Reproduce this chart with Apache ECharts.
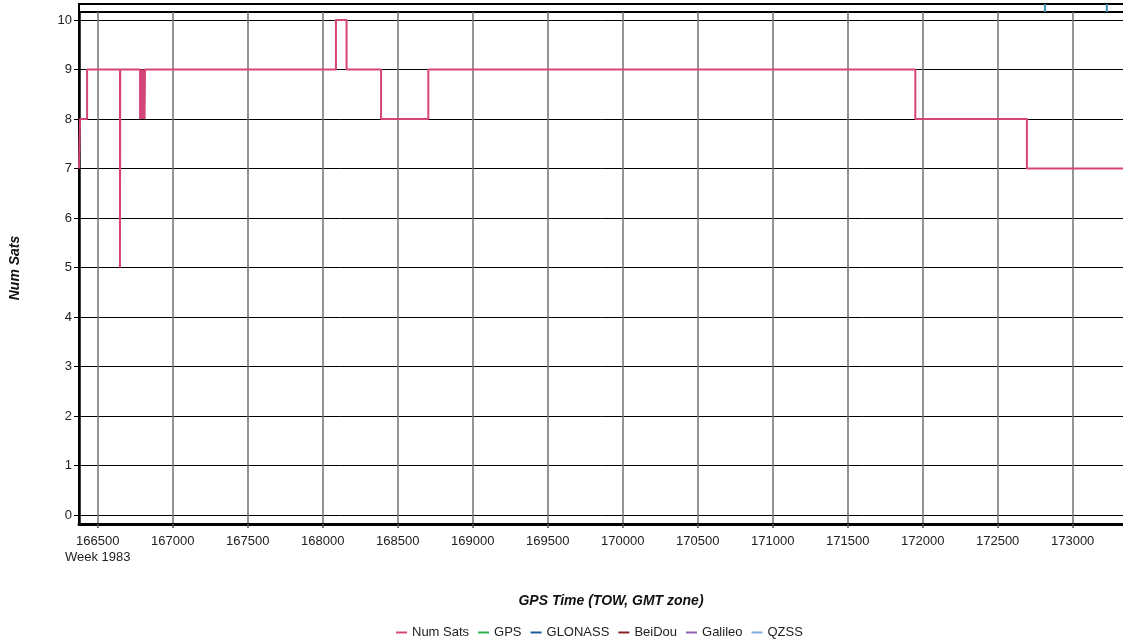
<!DOCTYPE html>
<html>
<head>
<meta charset="utf-8">
<script src="https://cdn.jsdelivr.net/npm/echarts@6/dist/echarts.min.js"></script>
<style>
  html, body { margin: 0; padding: 0; background: #fff; }
  #chart { width: 1123px; height: 639px; }
</style>
</head>
<body>
<div id="chart"></div>
<script>
// Legend entries and their colours
const seriesNames = ['Num Sats', 'GPS', 'GLONASS', 'BeiDou', 'Galileo', 'QZSS'];
const seriesColors = ['#d6457a', '#2eb04c', '#1f5c9c', '#8c2323', '#9263b4', '#85abdc'];

// Axis ticks
const towTicks = [166500, 167000, 167500, 168000, 168500, 169000, 169500,
                  170000, 170500, 171000, 171500, 172000, 172500, 173000];
const satTicks = [0, 1, 2, 3, 4, 5, 6, 7, 8, 9, 10];
const weekLabel = 'Week 1983';

// Number of satellites in view (value holds until the next time of week)
const numSatsTow = [166375, 166382, 166429, 166648, 166650,
                    166782, 166785, 166788, 166791, 166794, 166797,
                    166800, 166803, 166806, 166809, 166812, 166815,
                    168088, 168159, 168389, 168704, 171951, 172695, 173469];
const numSatsVal = [7, 8, 9, 5, 9,
                    8, 9, 8, 9, 8, 9,
                    8, 9, 8, 9, 8, 9,
                    10, 9, 8, 9, 8, 7, 7];

// QZSS events shown in the upper strip
const qzssTow = [172815, 173228];
const qzssVal = [1, 1];

const towMin = 166375, towMax = 173469;
const satMin = -0.182, satMax = 10.162;

const font = 'Liberation Sans, Arial, sans-serif';

const chart = echarts.init(document.getElementById('chart'), null, { renderer: 'canvas' });

const option = {
  backgroundColor: '#ffffff',
  animation: false,
  textStyle: { fontFamily: font },
  grid: [
    { left: 79, top: 12, width: 1064, height: 512, show: true, outerBoundsMode: 'none',
      containLabel: false,
      borderColor: '#000', borderWidth: 2, backgroundColor: 'transparent' },
    { left: 79, top: 4, width: 1064, height: 8, show: true, outerBoundsMode: 'none',
      containLabel: false,
      borderColor: '#000', borderWidth: 2, backgroundColor: 'transparent' }
  ],
  xAxis: [
    {
      type: 'value', gridIndex: 0, min: towMin, max: towMax,
      name: 'GPS Time (TOW, GMT zone)', nameLocation: 'middle', nameGap: 70,
      nameTextStyle: { fontFamily: font, fontSize: 14, fontWeight: 'bold', fontStyle: 'italic', color: '#111' },
      axisLine: { show: true, onZero: false, lineStyle: { color: '#000', width: 3 } },
      axisTick: { show: true, length: 4, customValues: towTicks, lineStyle: { color: '#555', width: 1.5 } },
      axisLabel: {
        customValues: towTicks, margin: 9, color: '#222', fontSize: 13, fontFamily: font,
        lineHeight: 16,
        formatter: v => (v === towTicks[0] ? v + '\n' + weekLabel : String(v))
      },
      splitLine: { show: true, lineStyle: { color: '#707070', width: 1.5 } }
    },
    {
      type: 'value', gridIndex: 1, min: towMin, max: towMax,
      axisLine: { show: false }, axisTick: { show: false },
      axisLabel: { show: false }, splitLine: { show: false }
    }
  ],
  yAxis: [
    {
      type: 'value', gridIndex: 0, min: satMin, max: satMax,
      name: 'Num Sats', nameLocation: 'middle', nameGap: 57, nameRotate: 90,
      nameTextStyle: { fontFamily: font, fontSize: 14, fontWeight: 'bold', fontStyle: 'italic', color: '#111' },
      axisLine: { show: true, lineStyle: { color: '#000', width: 2.5 } },
      axisTick: { show: true, length: 5, customValues: satTicks, lineStyle: { color: '#000', width: 1 } },
      axisLabel: { customValues: satTicks, margin: 7, color: '#222', fontSize: 13, fontFamily: font },
      splitLine: { show: true, lineStyle: { color: '#000', width: 1 } }
    },
    {
      type: 'value', gridIndex: 1, min: 0, max: 1,
      axisLine: { show: false }, axisTick: { show: false },
      axisLabel: { show: false }, splitLine: { show: false }
    }
  ],
  legend: {
    left: 391, top: 621,
    icon: 'rect', itemWidth: 11, itemHeight: 2, itemGap: 9,
    textStyle: { fontFamily: font, fontSize: 13, color: '#222' },
    data: seriesNames.map((n, i) => ({ name: n, itemStyle: { color: seriesColors[i] } }))
  },
  series: [
    {
      name: seriesNames[0], type: 'line', step: 'end',
      xAxisIndex: 0, yAxisIndex: 0,
      data: numSatsTow.map((t, i) => [t, numSatsVal[i]]),
      showSymbol: false, symbol: 'none',
      lineStyle: { color: seriesColors[0], width: 2 },
      itemStyle: { color: seriesColors[0] },
      z: 5
    },
    { name: seriesNames[1], type: 'line', data: [], xAxisIndex: 0, yAxisIndex: 0,
      itemStyle: { color: seriesColors[1] }, lineStyle: { color: seriesColors[1] } },
    { name: seriesNames[2], type: 'line', data: [], xAxisIndex: 0, yAxisIndex: 0,
      itemStyle: { color: seriesColors[2] }, lineStyle: { color: seriesColors[2] } },
    { name: seriesNames[3], type: 'line', data: [], xAxisIndex: 0, yAxisIndex: 0,
      itemStyle: { color: seriesColors[3] }, lineStyle: { color: seriesColors[3] } },
    { name: seriesNames[4], type: 'line', data: [], xAxisIndex: 0, yAxisIndex: 0,
      itemStyle: { color: seriesColors[4] }, lineStyle: { color: seriesColors[4] } },
    {
      name: seriesNames[5], type: 'bar', xAxisIndex: 1, yAxisIndex: 1,
      data: qzssTow.map((t, i) => [t, qzssVal[i]]),
      barWidth: 2,
      itemStyle: { color: '#3f8fb5' }
    }
  ]
};

chart.setOption(option);
</script>
</body>
</html>
